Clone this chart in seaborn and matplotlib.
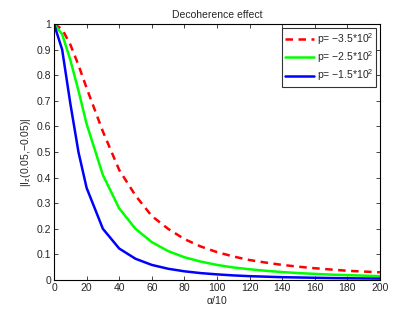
import pandas as pd
import matplotlib
matplotlib.use("Agg")
import matplotlib.pyplot as plt
import seaborn as sns

# alpha/10 sample points
alpha = [0, 5, 10, 15, 20, 30, 40, 50, 60, 70, 80, 90, 100,
         110, 120, 130, 140, 150, 160, 170, 180, 190, 200]

# |I_z(0.05,-0.05)|
p_350 = [1.0, 0.98, 0.92, 0.84, 0.75, 0.58, 0.43, 0.33, 0.25, 0.20, 0.16, 0.131, 0.109,
         0.092, 0.078, 0.068, 0.059, 0.052, 0.046, 0.041, 0.036, 0.033, 0.030]
p_250 = [1.0, 0.96, 0.86, 0.74, 0.61, 0.41, 0.28, 0.20, 0.148, 0.113, 0.089, 0.072, 0.059,
         0.049, 0.042, 0.036, 0.031, 0.027, 0.024, 0.021, 0.019, 0.017, 0.015]
p_150 = [1.0, 0.90, 0.69, 0.50, 0.36, 0.20, 0.123, 0.083, 0.059, 0.044, 0.034, 0.027, 0.022,
         0.018, 0.015, 0.013, 0.011, 0.0099, 0.0087, 0.0077, 0.0069, 0.0062, 0.0056]

labels = [r"p= $-$3.5*10$^2$", r"p= $-$2.5*10$^2$", r"p= $-$1.5*10$^2$"]

sns.set_style("ticks")
plt.rcParams["font.family"] = ["Liberation Sans", "DejaVu Sans"]
plt.rcParams["mathtext.default"] = "regular"

fs = 7.5
fig = plt.figure(figsize=(4.2, 3.16), dpi=100)
ax = fig.add_axes([0.1286, 0.1139, 0.776, 0.81])

series = [(p_350, "#ff0000", (3, 2.2)), (p_250, "#00ff00", ""), (p_150, "#0000ff", "")]
for (vals, col, dash), lab in zip(series, labels):
    df = pd.DataFrame({"alpha": alpha, "I": vals})
    sns.lineplot(data=df, x="alpha", y="I", color=col, linewidth=1.8, label=lab, ax=ax)
    if dash:
        ax.lines[-1].set_dashes(dash)

ax.set_xlim(0, 200)
ax.set_ylim(0, 1)
ax.set_xticks(range(0, 201, 20))
ax.set_yticks([i / 10 for i in range(11)])
ax.set_yticklabels(["0"] + [f"0.{i}" for i in range(1, 10)] + ["1"])
ax.tick_params(direction="in", length=3, width=0.6, labelsize=fs, top=True, right=True, pad=2)
for s in ax.spines.values():
    s.set_linewidth(0.8)
    s.set_color("black")

ax.set_title("Decoherence effect", fontsize=fs, pad=4)
ax.set_xlabel(r"$\alpha$/10", fontsize=fs, labelpad=1)
ax.set_ylabel(r"|I$_z$(0.05,$-$0.05)|", fontsize=fs, labelpad=3)

leg = ax.legend(loc="upper right", fontsize=fs, frameon=True, fancybox=False,
                edgecolor="black", handlelength=2.7, borderaxespad=0.35,
                borderpad=0.3, labelspacing=0.25, handletextpad=0.3)
leg.get_frame().set_linewidth(0.8)

fig.savefig("out.png", dpi=100)
